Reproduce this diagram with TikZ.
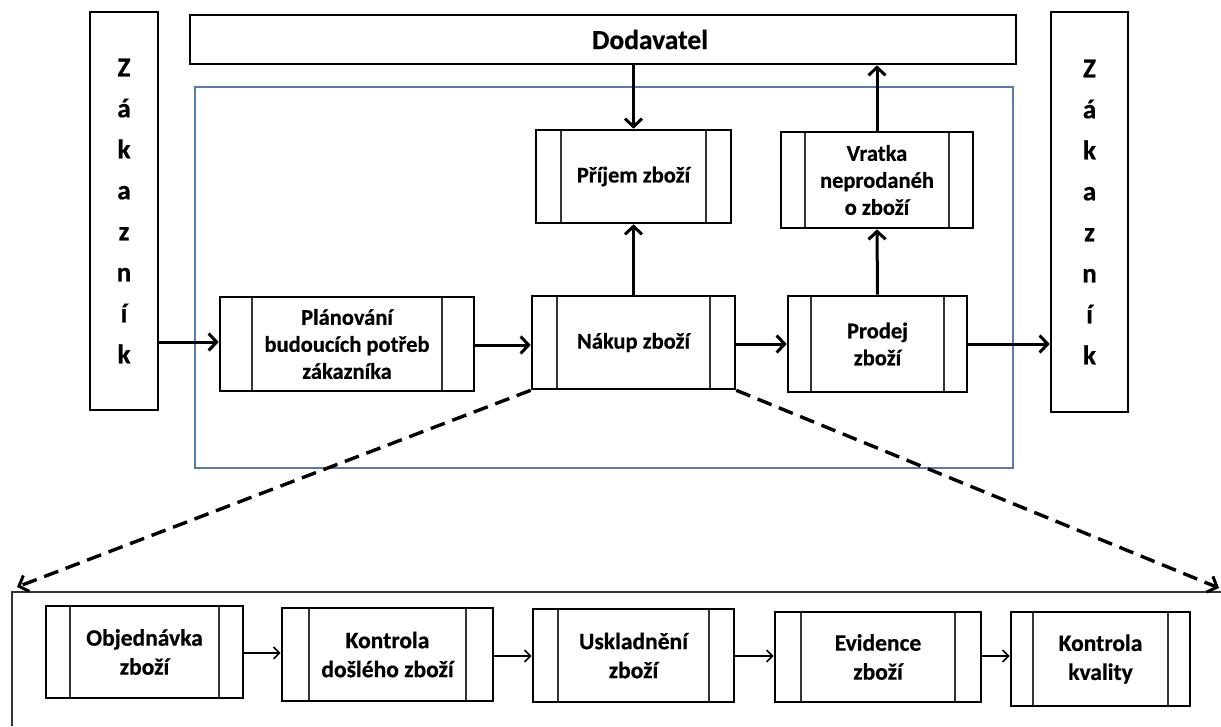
\documentclass[tikz,border=0pt]{standalone}
\usepackage{fontspec}
\setmainfont{Carlito}[BoldFeatures={FakeBold=0.6}]
\usetikzlibrary{arrows.meta}
\definecolor{frameblue}{HTML}{5A7AA8}
\tikzset{
  boxline/.style={line width=2.6pt},
  procbox/.style={draw, boxline, rectangle, inner sep=0pt, align=center,
    font=\fontsize{22.5}{27}\selectfont\bfseries,
    path picture={
      \draw[line width=2pt, black!80] ([xshift=#1]path picture bounding box.north west) -- ([xshift=#1]path picture bounding box.south west);
      \draw[line width=2pt, black!80] ([xshift=-#1]path picture bounding box.north east) -- ([xshift=-#1]path picture bounding box.south east);
    }},
  subbox/.style={procbox=#1, font=\fontsize{23.5}{29}\selectfont\bfseries},
  sidebox/.style={draw, boxline, rectangle, inner sep=0pt, align=center,
    font=\fontsize{27}{41}\selectfont\bfseries},
  flow/.style={line width=3pt, -{Straight Barb[length=8pt,width=17pt,line width=3pt]}},
  thinflow/.style={line width=1.6pt, -{Straight Barb[length=6pt,width=12pt,line width=1.6pt]}},
  zoomline/.style={line width=3.4pt, dash pattern=on 15pt off 8pt, -{Straight Barb[length=8pt,width=17pt,line width=3pt]}},
}
\begin{document}
\begin{tikzpicture}[x=1pt,y=-1pt]
\useasboundingbox (0,0) rectangle (1221,726);
\fill[white] (0,0) rectangle (1221,726);

% containers
\draw[frameblue, line width=1.2pt] (195,87) rectangle (1013,468);
\draw[black!80, line width=1.5pt] (12,726) -- (12,592) -- (1221,592);

% side boxes
\node[sidebox, minimum width=68pt, minimum height=398pt] (zakL) at (124,211) {Z\\á\\k\\a\\z\\n\\í\\k};
\node[sidebox, minimum width=77pt, minimum height=400pt] (zakR) at (1089.5,212) {Z\\á\\k\\a\\z\\n\\í\\k};

% supplier
\node[draw, boxline, rectangle, inner sep=0pt, minimum width=826pt, minimum height=49pt,
  font=\fontsize{27.5}{30}\selectfont\bfseries] (dod) at (603,39.5) {\hspace*{94pt}Dodavatel};

% main process
\node[procbox=32pt, minimum width=254pt, minimum height=94pt] (plan) at (347,344) {Plánování\\budoucích potřeb\\zákazníka};
\node[procbox=25pt, minimum width=203pt, minimum height=93pt] (nakup) at (633.5,342.5) {Nákup zboží};
\node[procbox=23pt, minimum width=179pt, minimum height=96pt] (prodej) at (877.5,344) {Prodej\\zboží};
\node[procbox=25pt, minimum width=195pt, minimum height=93pt] (prijem) at (633.5,176.5) {Příjem zboží};
\node[procbox=24pt, minimum width=192pt, minimum height=96pt] (vratka) at (877,180) {Vratka\\neprodanéh\\o zboží};

% sub process
\node[subbox=24pt, minimum width=197pt, minimum height=92pt] (obj) at (144.5,652) {Objednávka\\zboží};
\node[subbox=27pt, minimum width=211pt, minimum height=93pt] (kon) at (387.5,654.5) {Kontrola\\došlého zboží};
\node[subbox=25pt, minimum width=201pt, minimum height=93pt] (usk) at (633.5,655.5) {Uskladnění\\zboží};
\node[subbox=26pt, minimum width=206pt, minimum height=90pt] (evi) at (878,657) {Evidence\\zboží};
\node[subbox=22pt, minimum width=179pt, minimum height=94pt] (kva) at (1100.5,659) {Kontrola\\kvality};

% main connectors
\draw[flow] (zakL.east |- 0,342) -- (plan.west |- 0,342);
\draw[flow] (plan.east |- 0,345) -- (nakup.west |- 0,345);
\draw[flow] (nakup.east |- 0,344) -- (prodej.west |- 0,344);
\draw[flow] (prodej.east |- 0,344) -- (zakR.west |- 0,344);
\draw[flow] (nakup.north) -- (prijem.south);
\draw[flow] (prodej.north) -- (vratka.south);
\draw[flow] (prijem.north |- dod.south) -- (prijem.north);
\draw[flow] (vratka.north) -- (vratka.north |- dod.south);

% zoom lines
\coordinate (zl) at (17,587);
\coordinate (zr) at (1219,588);
\draw[zoomline] (nakup.south west) -- (zl);
\draw[zoomline] (nakup.south east) -- (zr);

% sub connectors
\draw[thinflow] (obj.east |- 0,653) -- (kon.west |- 0,653);
\draw[thinflow] (kon.east |- 0,656) -- (usk.west |- 0,656);
\draw[thinflow] (usk.east |- 0,656) -- (evi.west |- 0,656);
\draw[thinflow] (evi.east |- 0,656) -- (kva.west |- 0,656);
\end{tikzpicture}
\end{document}
